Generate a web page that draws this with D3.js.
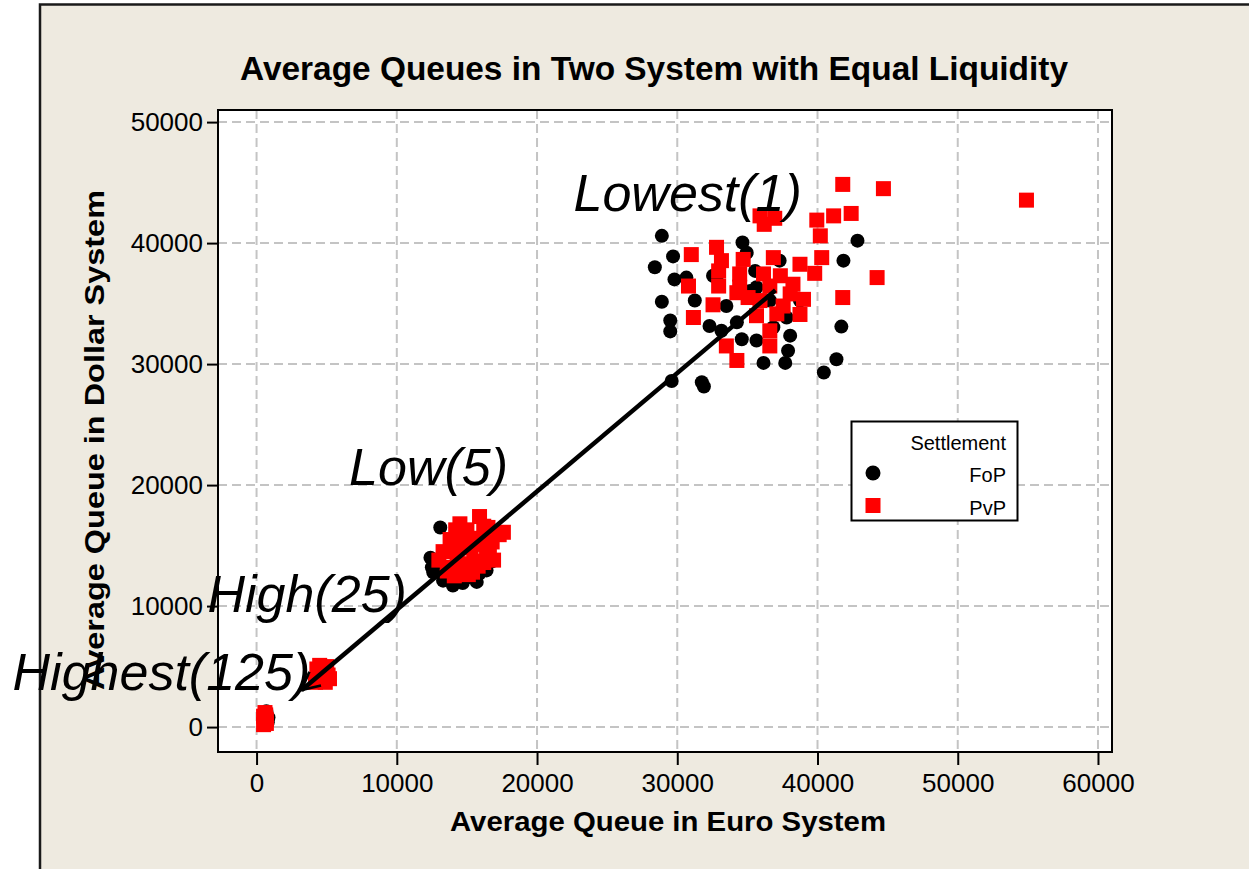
<!DOCTYPE html>
<html>
<head>
<meta charset="utf-8">
<script src="https://cdn.jsdelivr.net/npm/d3@7"></script>
<style>
  body { margin: 0; background: #ffffff; }
  text { font-family: "Liberation Sans", Arial, sans-serif; fill: #000; }
  .tick text { font-size: 26px; }
  .title { font-size: 33px; font-weight: bold; }
  .axis-label { font-size: 28px; font-weight: bold; }
  .note { font-size: 52px; font-style: italic; }
  .legend-text { font-size: 20px; }
</style>
</head>
<body>
<div id="chart"></div>
<script>
// Tick values on both axes
const xTicks = [0, 10000, 20000, 30000, 40000, 50000, 60000];
const yTicks = [0, 10000, 20000, 30000, 40000, 50000];

// FoP points (Euro queue, Dollar queue)
const fopPoints = [
  // Lowest(1)
  [28900, 40600], [29700, 38900], [28400, 38000], [29800, 37000], [28900, 35150],
  [29500, 33600], [29500, 32700], [29600, 28600], [31750, 28500], [31900, 28150],
  [32300, 33150], [33150, 32750], [34250, 33450], [34600, 32050], [35650, 31950],
  [36150, 30100], [37700, 30100], [37900, 31100], [38050, 32350], [36850, 33050],
  [34650, 40050], [34950, 39200], [32550, 37300], [31250, 35250], [33500, 34800],
  [37300, 38550], [41850, 38550], [42850, 40200], [41700, 33100], [41350, 30400],
  [40450, 29300], [30650, 37150], [35650, 36350], [35200, 36050], [32800, 37150],
  [34450, 36900], [37800, 33850], [35550, 37700], [36600, 35250], [38750, 35250],
  // Low(5)
  [13100, 16500], [12400, 14000], [12500, 13200], [13300, 12100], [14000, 11700],
  [14700, 11900], [15700, 12000], [16400, 12950], [12800, 13500], [13500, 12600],
  [14900, 12300], [16800, 13700], [15900, 12700], [12600, 12800],
  // High(25)
  [4400, 4000], [4800, 4400],
  // Highest(125)
  [700, 1300], [850, 800], [650, 700], [800, 400]
];

// PvP points
const pvpPoints = [
  // Lowest(1)
  [41800, 44850], [44700, 44500], [54900, 43550], [35900, 42250], [36950, 42050],
  [36200, 41550], [39950, 41900], [41150, 42250], [42400, 42450], [40200, 40600],
  [31000, 39050], [32800, 39650], [33150, 38550], [34700, 38650], [36850, 38800],
  [40300, 38800], [38750, 38250], [39800, 37500], [44250, 37150], [30800, 36450],
  [32950, 37700], [32950, 36450], [34450, 37450], [34450, 36350], [36150, 37450],
  [37350, 37300], [38250, 36600], [36600, 36450], [34250, 35900], [35050, 35500],
  [32550, 34900], [31150, 33850], [41800, 35500], [39000, 35350], [38050, 35800],
  [37100, 34150], [38750, 34100], [35650, 34000], [33500, 31500], [34250, 30300],
  [36600, 31500], [36600, 32750], [37550, 34800], [35900, 35250],
  // Low(5)
  [13300, 14500], [13800, 15500], [14200, 16300], [14600, 15200], [15000, 16300],
  [15300, 14800], [15700, 15600], [15900, 17400], [16200, 16600], [16400, 14300],
  [16800, 15300], [17300, 15900], [17600, 16100], [14000, 13200], [14700, 13500],
  [15500, 13700], [16200, 13600], [16900, 13800], [13600, 12900], [15100, 12600],
  [14300, 14400], [15000, 15300], [16000, 15100], [13000, 13800], [16600, 14500],
  [15400, 12800], [14100, 12500], [14500, 16800], [16500, 16500], [15800, 13300],
  // High(25)
  [4200, 3700], [4400, 4200], [4700, 4600], [5000, 5000], [5100, 4300],
  [4600, 3900], [4900, 3700], [4300, 4800], [5200, 4000], [4500, 5100],
  // Highest(125)
  [500, 200], [600, 400], [700, 600], [550, 800], [650, 1000],
  [600, 1200], [700, 300], [500, 900]
];

// Annotation labels and their anchor (left, baseline) in data units
const noteLabels = ["Lowest(1)", "Low(5)", "High(25)", "Highest(125)"];
const noteX = [22600, 6600, -3500, -17400];
const noteY = [42650, 20000, 9550, 3050];

// Arrow from the lowest-liquidity cluster down to the highest
const arrowFrom = [37000, 36100];
const arrowTo = [3200, 3050];

const legendTitle = "Settlement";
const legendItems = ["FoP", "PvP"];

const W = 1249, H = 869;
const plot = { left: 218, right: 1112, top: 110, bottom: 752 };

const svg = d3.select("#chart").append("svg")
  .attr("width", W)
  .attr("height", H);

// Beige figure background with a dark frame on top and left
svg.append("rect")
  .attr("x", 40).attr("y", 4)
  .attr("width", W - 40).attr("height", H - 4)
  .attr("fill", "#eeeae0");
svg.append("path")
  .attr("d", `M40,${H} L40,4.5 L${W},4.5`)
  .attr("fill", "none")
  .attr("stroke", "#1a1a1a")
  .attr("stroke-width", 2.5);

// Scales
const x = d3.scaleLinear().domain([-2750, 61000]).range([plot.left, plot.right]);
const y = d3.scaleLinear().domain([-2060, 51000]).range([plot.bottom, plot.top]);

// Plot area
svg.append("rect")
  .attr("x", plot.left).attr("y", plot.top)
  .attr("width", plot.right - plot.left)
  .attr("height", plot.bottom - plot.top)
  .attr("fill", "#ffffff");

// Dashed grid lines
svg.append("g").selectAll("line").data(xTicks).join("line")
  .attr("x1", d => x(d)).attr("x2", d => x(d))
  .attr("y1", plot.top).attr("y2", plot.bottom)
  .attr("stroke", "#c4c4c4").attr("stroke-width", 2)
  .attr("stroke-dasharray", "9,5");
svg.append("g").selectAll("line").data(yTicks).join("line")
  .attr("x1", plot.left).attr("x2", plot.right)
  .attr("y1", d => y(d)).attr("y2", d => y(d))
  .attr("stroke", "#c4c4c4").attr("stroke-width", 2)
  .attr("stroke-dasharray", "9,5");

// Points: FoP circles first, PvP squares on top
svg.append("g").selectAll("circle").data(fopPoints).join("circle")
  .attr("cx", d => x(d[0]))
  .attr("cy", d => y(d[1]))
  .attr("r", 7)
  .attr("fill", "#000");

const sq = 15;
svg.append("g").selectAll("rect").data(pvpPoints).join("rect")
  .attr("x", d => x(d[0]) - sq / 2)
  .attr("y", d => y(d[1]) - sq / 2)
  .attr("width", sq).attr("height", sq)
  .attr("fill", "#ff0000");

// Arrow
svg.append("defs").append("marker")
  .attr("id", "arrowhead")
  .attr("viewBox", "0 0 10 10")
  .attr("refX", 9).attr("refY", 5)
  .attr("markerWidth", 5).attr("markerHeight", 5)
  .attr("markerUnits", "strokeWidth")
  .attr("orient", "auto")
  .append("path")
  .attr("d", "M1,1 L9,5 L1,9")
  .attr("fill", "none")
  .attr("stroke", "#000")
  .attr("stroke-width", 1.2);

svg.append("line")
  .attr("x1", x(arrowFrom[0])).attr("y1", y(arrowFrom[1]))
  .attr("x2", x(arrowTo[0])).attr("y2", y(arrowTo[1]))
  .attr("stroke", "#000")
  .attr("stroke-width", 4.5)
  .attr("marker-end", "url(#arrowhead)");

// Plot border
svg.append("rect")
  .attr("x", plot.left).attr("y", plot.top)
  .attr("width", plot.right - plot.left)
  .attr("height", plot.bottom - plot.top)
  .attr("fill", "none")
  .attr("stroke", "#000")
  .attr("stroke-width", 2);

// Axes
const xAxis = svg.append("g")
  .attr("transform", `translate(0, ${plot.bottom})`)
  .call(d3.axisBottom(x).tickValues(xTicks).tickFormat(d3.format("d")).tickSize(13).tickPadding(9));
const yAxis = svg.append("g")
  .attr("transform", `translate(${plot.left}, 0)`)
  .call(d3.axisLeft(y).tickValues(yTicks).tickFormat(d3.format("d")).tickSize(11).tickPadding(4));
[xAxis, yAxis].forEach(a => {
  a.select(".domain").remove();
  a.selectAll(".tick line").attr("stroke", "#000").attr("stroke-width", 2);
  a.selectAll(".tick text").attr("font-family", null).attr("font-size", null);
});

// Titles
svg.append("text")
  .attr("class", "title")
  .attr("x", 240).attr("y", 80)
  .attr("textLength", 828)
  .attr("lengthAdjust", "spacingAndGlyphs")
  .text("Average Queues in Two System with Equal Liquidity");

svg.append("text")
  .attr("class", "axis-label")
  .attr("x", 450).attr("y", 831)
  .attr("textLength", 436)
  .attr("lengthAdjust", "spacingAndGlyphs")
  .text("Average Queue in Euro System");

svg.append("text")
  .attr("class", "axis-label")
  .attr("transform", "translate(104, 690) rotate(-90)")
  .attr("textLength", 500)
  .attr("lengthAdjust", "spacingAndGlyphs")
  .text("Average Queue in Dollar System");

// Annotations
svg.append("g").selectAll("text").data(noteLabels).join("text")
  .attr("class", "note")
  .attr("x", (d, i) => x(noteX[i]))
  .attr("y", (d, i) => y(noteY[i]))
  .text(d => d);

// Legend
const lg = svg.append("g");
lg.append("rect")
  .attr("x", 851.5).attr("y", 421.5)
  .attr("width", 166).attr("height", 99)
  .attr("fill", "#fff")
  .attr("stroke", "#000")
  .attr("stroke-width", 2);
lg.append("text")
  .attr("class", "legend-text")
  .attr("x", 1006).attr("y", 450)
  .attr("text-anchor", "end")
  .text(legendTitle);
legendItems.forEach((name, i) => {
  const cy = 473 + i * 32.5;
  lg.append("text")
    .attr("class", "legend-text")
    .attr("x", 1006).attr("y", cy + 9)
    .attr("text-anchor", "end")
    .text(name);
  if (i === 0) {
    lg.append("circle").attr("cx", 873).attr("cy", cy).attr("r", 7.5).attr("fill", "#000");
  } else {
    lg.append("rect").attr("x", 865.5).attr("y", cy - 7.5)
      .attr("width", 15).attr("height", 15).attr("fill", "#ff0000");
  }
});
</script>
</body>
</html>
